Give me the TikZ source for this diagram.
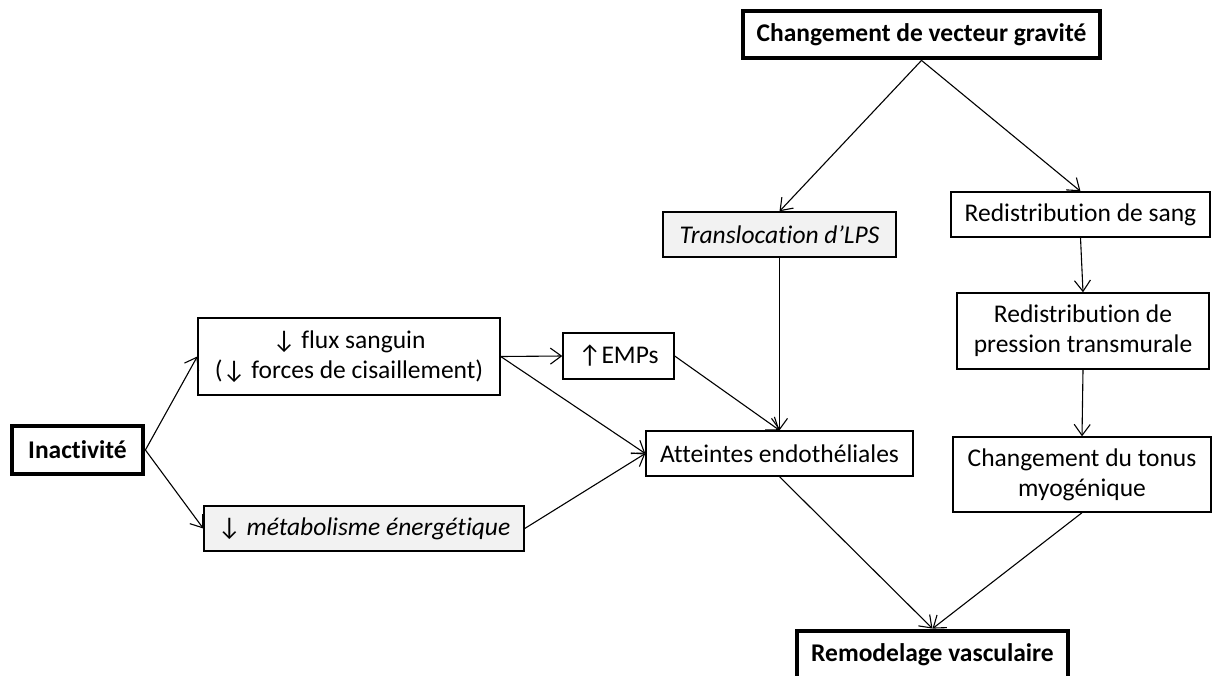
\documentclass[tikz,border=0pt]{standalone}
\usepackage{fontspec}
\setmainfont{Carlito}[Ligatures={NoCommon}]
\usetikzlibrary{arrows.meta}
\definecolor{boxgray}{HTML}{F2F2F2}
\begin{document}
\begin{tikzpicture}[x=1pt,y=-1pt,
  plainbox/.style={draw, line width=1.4pt, align=center, inner sep=0pt,
    font=\fontsize{25.5}{30}\selectfont},
  thickbox/.style={plainbox, line width=4.8pt,
    font=\fontsize{25.5}{30}\selectfont\bfseries},
  graybox/.style={plainbox, fill=boxgray},
  arr/.style={-{Straight Barb[length=11pt,width=16pt]}, line width=1.1pt}]
\useasboundingbox (0,0) rectangle (1214,675);

\node[thickbox, minimum width=357pt, minimum height=47pt] (grav) at (921.5,34.5) {Changement de vecteur gravité};
\node[graybox, minimum width=233pt, minimum height=45pt] (trans) at (779.5,234.5) {\itshape Translocation d’LPS};
\node[plainbox, minimum width=259pt, minimum height=45pt] (sang) at (1080.5,214.5) {Redistribution de sang};
\node[plainbox, minimum width=252pt, minimum height=76pt] (press) at (1083,331) {Redistribution de\\pression transmurale};
\node[plainbox, minimum width=258pt, minimum height=75pt] (tonus) at (1082,474.5) {Changement du tonus\\myogénique};
\node[plainbox, minimum width=302pt, minimum height=77pt] (flux) at (349,356.5) {↓ flux sanguin\\(↓ forces de cisaillement)};
\node[plainbox, minimum width=111pt, minimum height=46pt] (emps) at (618.5,356) {↑EMPs};
\node[plainbox, minimum width=267pt, minimum height=45pt] (att) at (779.5,453.5) {Atteintes endothéliales};
\node[thickbox, minimum width=131pt, minimum height=48pt] (inact) at (77.5,450) {Inactivité};
\node[graybox, minimum width=320pt, minimum height=45pt] (metab) at (364,528.5) {↓ \itshape métabolisme énergétique};
\node[thickbox, minimum width=271pt, minimum height=47pt] (remod) at (932.5,654.5) {Remodelage vasculaire};

\draw[arr] (grav.south) -- (trans.north);
\draw[arr] (grav.south) -- (sang.north);
\draw[arr] (trans.south) -- (att.north);
\draw[arr] (sang.south) -- (press.north);
\draw[arr] (press.south) -- (tonus.north);
\draw[arr] (inact.east) -- (flux.west);
\draw[arr] (inact.east) -- (metab.west);
\draw[arr] (flux.east) -- (emps.west);
\draw[arr] (flux.east) -- (att.west);
\draw[arr] (metab.east) -- (att.west);
\draw[arr] (emps.east) -- (att.north);
\draw[arr] (att.south) -- (remod.north);
\draw[arr] (tonus.south) -- (remod.north);
\end{tikzpicture}
\end{document}
